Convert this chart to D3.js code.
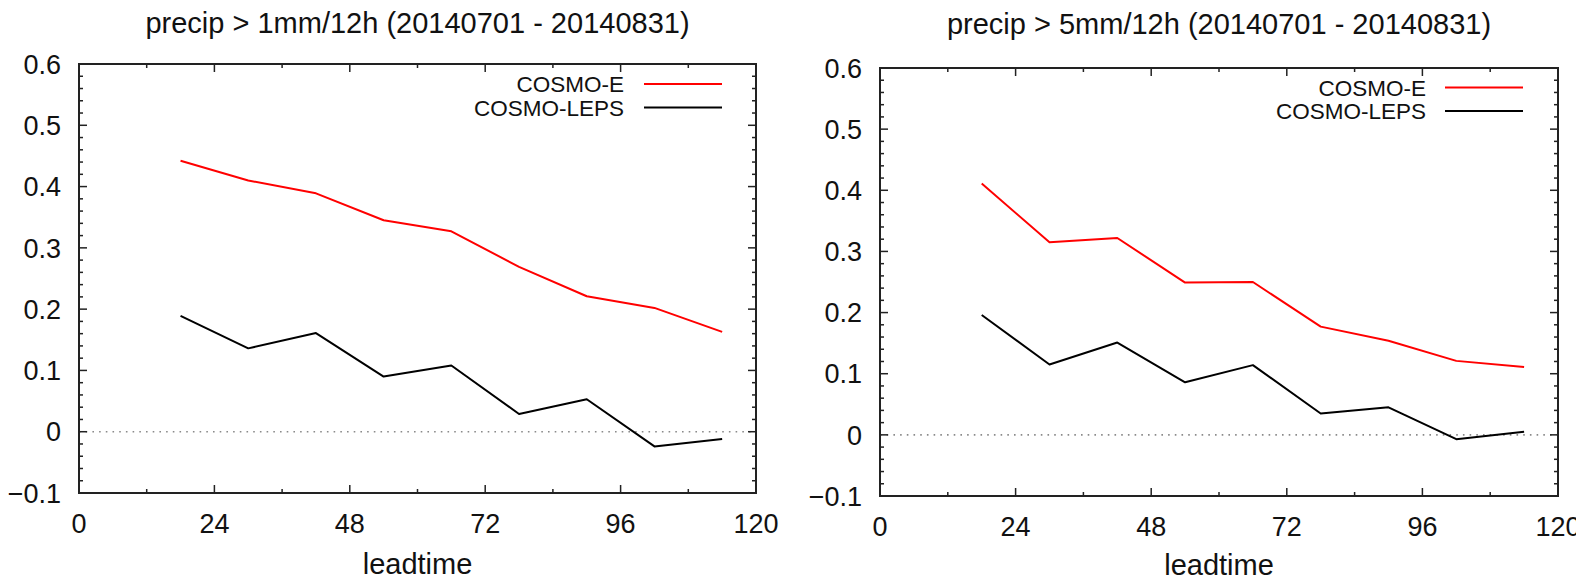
<!DOCTYPE html>
<html>
<head>
<meta charset="utf-8">
<script src="https://cdn.jsdelivr.net/npm/d3@7"></script>
<style>
  html, body { margin: 0; padding: 0; background: #fff; }
  svg { display: block; }
  text { font-family: "Liberation Sans", Arial, Helvetica, sans-serif; fill: #111; }
</style>
</head>
<body>
<svg id="chart" width="1589" height="581"></svg>
<script>
// ---- data ----
const leadtimes = [18, 30, 42, 54, 66, 78, 90, 102, 114];
const seriesNames = ["COSMO-E", "COSMO-LEPS"];
const seriesColors = ["#ff0000", "#000000"];

const titles = ["precip > 1mm/12h (20140701 - 20140831)", "precip > 5mm/12h (20140701 - 20140831)"];
const xLabel = "leadtime";

const p1CosmoE    = [0.442, 0.410, 0.389, 0.345, 0.327, 0.269, 0.221, 0.202, 0.163];
const p1CosmoLeps = [0.189, 0.136, 0.161, 0.090, 0.108, 0.029, 0.053, -0.024, -0.012];
const p5CosmoE    = [0.411, 0.315, 0.322, 0.249, 0.250, 0.177, 0.154, 0.121, 0.111];
const p5CosmoLeps = [0.196, 0.115, 0.151, 0.086, 0.114, 0.035, 0.045, -0.007, 0.005];

const xTicks = [0, 24, 48, 72, 96, 120];
const xMinorTicks = [12, 36, 60, 84, 108];
const yTicks = [-0.1, 0, 0.1, 0.2, 0.3, 0.4, 0.5, 0.6];
const yMinorTicks = d3.range(-0.1, 0.6001, 0.02).map(v => +v.toFixed(2));
const xDomain = [0, 120];
const yDomain = [-0.1, 0.6];

// ---- layout ----
const panels = [
  { left: 79,  right: 756,  top: 64,   bottom: 493, title: titles[0], series: [p1CosmoE, p1CosmoLeps],
    titleY: 33, xlabY: 574, legX: 624, legY: [84, 107.5], legLine: [644, 722] },
  { left: 880, right: 1558, top: 68,   bottom: 496, title: titles[1], series: [p5CosmoE, p5CosmoLeps],
    titleY: 34, xlabY: 575, legX: 1426, legY: [87.5, 111], legLine: [1445, 1523] }
];

const svg = d3.select("#chart");
svg.append("defs").append("clipPath").attr("id", "pageclip")
  .append("rect").attr("x", 0).attr("y", 0).attr("width", 1576).attr("height", 581);
const root = svg.append("g").attr("clip-path", "url(#pageclip)");

const fmtY = d => d === 0 ? "0" : d3.format(".1f")(d);

panels.forEach(p => {
  const g = root.append("g");
  const x = d3.scaleLinear().domain(xDomain).range([p.left, p.right]);
  const y = d3.scaleLinear().domain(yDomain).range([p.bottom, p.top]);
  const frameColor = "#222";

  // zero line (dotted)
  g.append("line")
    .attr("x1", x(0)).attr("x2", x(120)).attr("y1", y(0)).attr("y2", y(0))
    .attr("stroke", "#8a8a8a").attr("stroke-width", 1.6)
    .attr("stroke-dasharray", "1.6,5.1");

  // ticks (inward, mirrored)
  const tickG = g.append("g").attr("stroke", frameColor).attr("stroke-width", 1.5);
  const major = 8, minor = 4;
  xTicks.forEach(t => {
    tickG.append("line").attr("x1", x(t)).attr("x2", x(t)).attr("y1", p.bottom).attr("y2", p.bottom - major);
    tickG.append("line").attr("x1", x(t)).attr("x2", x(t)).attr("y1", p.top).attr("y2", p.top + major);
  });
  xMinorTicks.forEach(t => {
    tickG.append("line").attr("x1", x(t)).attr("x2", x(t)).attr("y1", p.bottom).attr("y2", p.bottom - minor);
    tickG.append("line").attr("x1", x(t)).attr("x2", x(t)).attr("y1", p.top).attr("y2", p.top + minor);
  });
  yMinorTicks.forEach(t => {
    const isMajor = yTicks.some(v => Math.abs(v - t) < 1e-6);
    const len = isMajor ? major : minor;
    tickG.append("line").attr("x1", p.left).attr("x2", p.left + len).attr("y1", y(t)).attr("y2", y(t));
    tickG.append("line").attr("x1", p.right).attr("x2", p.right - len).attr("y1", y(t)).attr("y2", y(t));
  });

  // frame
  g.append("rect")
    .attr("x", p.left).attr("y", p.top)
    .attr("width", p.right - p.left).attr("height", p.bottom - p.top)
    .attr("fill", "none").attr("stroke", frameColor).attr("stroke-width", 2);

  // tick labels
  g.append("g").selectAll("text").data(yTicks).join("text")
    .attr("x", p.left - 18).attr("y", d => y(d))
    .attr("dy", "0.36em")
    .attr("text-anchor", "end")
    .attr("font-size", 27)
    .text(fmtY);
  g.append("g").selectAll("text").data(xTicks).join("text")
    .attr("x", d => x(d)).attr("y", p.bottom + 40)
    .attr("text-anchor", "middle")
    .attr("font-size", 27)
    .text(d => d);

  // title & axis label
  g.append("text").attr("x", (p.left + p.right) / 2).attr("y", p.titleY)
    .attr("text-anchor", "middle").attr("font-size", 29).text(p.title);
  g.append("text").attr("x", (p.left + p.right) / 2).attr("y", p.xlabY)
    .attr("text-anchor", "middle").attr("font-size", 29).text(xLabel);

  // lines
  const line = d3.line().x((d, i) => x(leadtimes[i])).y(d => y(d));
  p.series.forEach((s, k) => {
    g.append("path").datum(s)
      .attr("d", line)
      .attr("fill", "none")
      .attr("stroke", seriesColors[k])
      .attr("stroke-width", 2)
      .attr("stroke-linejoin", "round");
  });

  // legend
  seriesNames.forEach((name, k) => {
    g.append("text").attr("x", p.legX).attr("y", p.legY[k])
      .attr("dy", "0.36em").attr("text-anchor", "end")
      .attr("font-size", 22.5).text(name);
    g.append("line")
      .attr("x1", p.legLine[0]).attr("x2", p.legLine[1])
      .attr("y1", p.legY[k]).attr("y2", p.legY[k])
      .attr("stroke", seriesColors[k]).attr("stroke-width", 2);
  });
});
</script>
</body>
</html>
